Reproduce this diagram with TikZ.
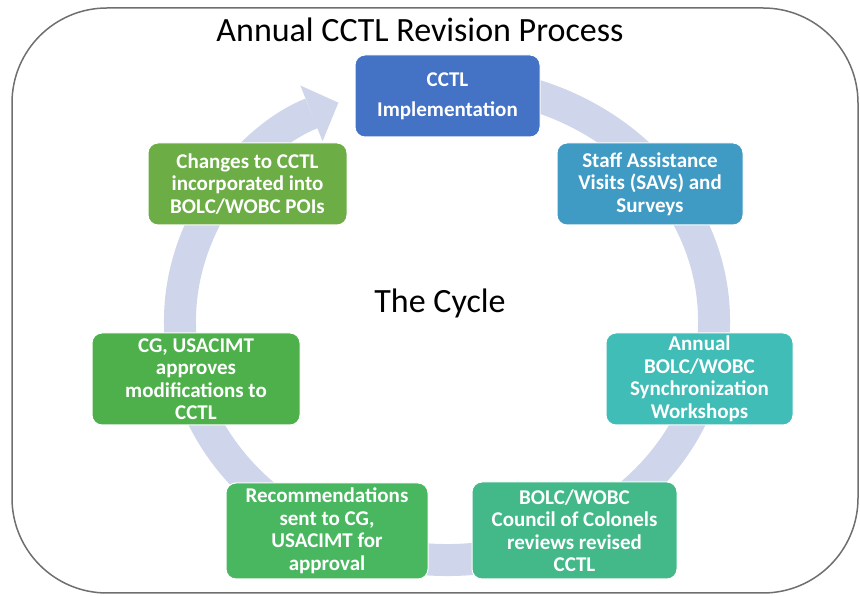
\documentclass[tikz,border=0pt]{standalone}
\usepackage{fontspec}
\setmainfont{Carlito}
\usetikzlibrary{arrows.meta}
\definecolor{CycleRing}{HTML}{CFD5EA}
\definecolor{CycleFrame}{HTML}{6F6F6F}
\definecolor{CycleBlue}{HTML}{4472C4}
\definecolor{CycleSky}{HTML}{3F9AC4}
\definecolor{CycleTeal}{HTML}{40BDB7}
\definecolor{CycleSea}{HTML}{43B98A}
\definecolor{CycleLeaf}{HTML}{49B760}
\definecolor{CycleGreen}{HTML}{4EB04A}
\definecolor{CycleMoss}{HTML}{6CAD46}
\tikzset{
  cycle/box/.style={
    draw=white, line width=1pt, rounded corners=10pt,
    text=white, font=\fontsize{21}{22.5}\selectfont\bfseries,
    align=center, inner sep=0pt
  },
  cycle/ring/.style={
    draw=CycleRing, line width=32pt,
    -{Triangle[length=29pt,width=60pt,line width=0pt]}
  },
  cycle/heading/.style={font=\fontsize{34}{36}\selectfont, text=black}
}

\begin{document}
\begin{tikzpicture}[x=1pt,y=1pt]
  \useasboundingbox (0,0) rectangle (860,596);
  \draw[CycleFrame,line width=1.5pt,rounded corners=95pt] (12,3) rectangle (858,588);
  \node[cycle/heading,anchor=base] (title) at (420,554) {Annual CCTL Revision Process};
  % the ring, running clockwise back into the first step
  \draw[cycle/ring] (447,275) ++(80:267 and 239)
    arc[start angle=80,end angle=-246,x radius=267,y radius=239];
  \node[cycle/heading,anchor=base] (hub) at (440,283) {The Cycle};
  \node[cycle/box,fill=CycleBlue,minimum width=185pt,minimum height=82pt] (impl) at (447.5,500)
    {CCTL\\[7.5pt]Implementation};
  \node[cycle/box,fill=CycleSky,minimum width=186pt,minimum height=82pt] (sav) at (650,412)
    {Staff Assistance\\Visits (SAVs) and\\Surveys};
  \node[cycle/box,fill=CycleTeal,minimum width=187pt,minimum height=92pt] (sync) at (699.5,217)
    {Annual\\BOLC/WOBC\\Synchronization\\Workshops};
  \node[cycle/box,fill=CycleSea,minimum width=205pt,minimum height=97pt] (coc) at (574.5,65.5)
    {BOLC/WOBC\\Council of Colonels\\reviews revised\\CCTL};
  \node[cycle/box,fill=CycleLeaf,minimum width=202pt,minimum height=96pt] (recs) at (327,65)
    {Recommendations\\sent to CG,\\USACIMT for\\approval};
  \node[cycle/box,fill=CycleGreen,minimum width=208pt,minimum height=92pt] (cg) at (196,217)
    {CG, USACIMT\\approves\\modifications to\\CCTL};
  \node[cycle/box,fill=CycleMoss,minimum width=199pt,minimum height=82pt] (poi) at (247.5,412)
    {Changes to CCTL\\incorporated into\\BOLC/WOBC POIs};
\end{tikzpicture}
\end{document}
